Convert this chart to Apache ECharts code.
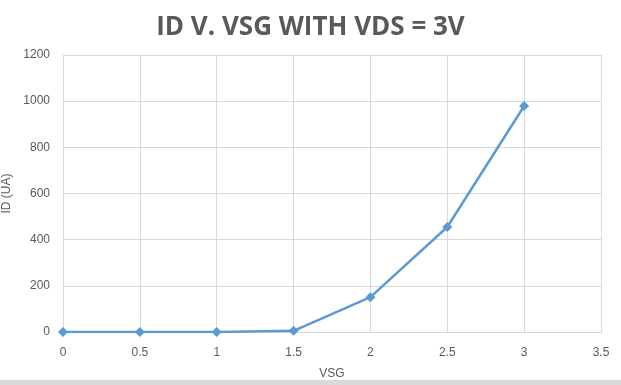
<!DOCTYPE html>
<html>
<head>
<meta charset="utf-8">
<script src="https://cdn.jsdelivr.net/npm/echarts@6/dist/echarts.min.js"></script>
<style>html,body{margin:0;padding:0;background:#fff;}#c{width:621px;height:385px;}</style>
</head>
<body>
<div id="c"></div>
<script>
var vsg = [0, 0.5, 1, 1.5, 2, 2.5, 3];
var idUA = [0, 0, 0, 5, 151, 455, 979];
var chart = echarts.init(document.getElementById('c'), null, {renderer: 'canvas'});
var txt = '#595959';
chart.setOption({
  animation: false,
  title: {
    text: 'ID V. VSG WITH VDS = 3V',
    left: 'center', top: 10,
    textStyle: {fontFamily: 'Open Sans', fontWeight: 'bold', fontSize: 26, color: txt}
  },
  graphic: [{type: 'rect', shape: {x: 0, y: 380, width: 621, height: 5}, style: {fill: '#d9d9d9'}}],
  grid: {left: 63, right: 20, top: 55, bottom: 53, containLabel: false, outerBoundsMode: 'none'},
  xAxis: {
    type: 'value', min: 0, max: 3.5, interval: 0.5,
    name: 'VSG', nameLocation: 'middle', nameGap: 36,
    nameTextStyle: {color: txt, fontSize: 12, fontFamily: 'Liberation Sans'},
    axisLine: {show: true, lineStyle: {color: '#d9d9d9'}},
    axisTick: {show: false},
    axisLabel: {color: txt, fontSize: 12, margin: 15, fontFamily: 'Liberation Sans'},
    splitLine: {show: true, lineStyle: {color: '#d9d9d9'}}
  },
  yAxis: {
    type: 'value', min: 0, max: 1200, interval: 200,
    name: 'ID (UA)', nameLocation: 'middle', nameGap: 45, nameRotate: 90,
    nameTextStyle: {color: txt, fontSize: 12, fontFamily: 'Liberation Sans'},
    axisLine: {show: false}, axisTick: {show: false},
    axisLabel: {color: txt, fontSize: 12, margin: 13, fontFamily: 'Liberation Sans', formatter: function (v) { return String(v); }},
    splitLine: {show: true, lineStyle: {color: '#d9d9d9'}}
  },
  series: [{
    type: 'line',
    data: vsg.map(function (x, i) { return [x, idUA[i]]; }),
    lineStyle: {color: '#5B9BD5', width: 2.5},
    itemStyle: {color: '#5B9BD5'},
    symbol: 'diamond', symbolSize: 10
  }]
});
</script>
</body>
</html>
